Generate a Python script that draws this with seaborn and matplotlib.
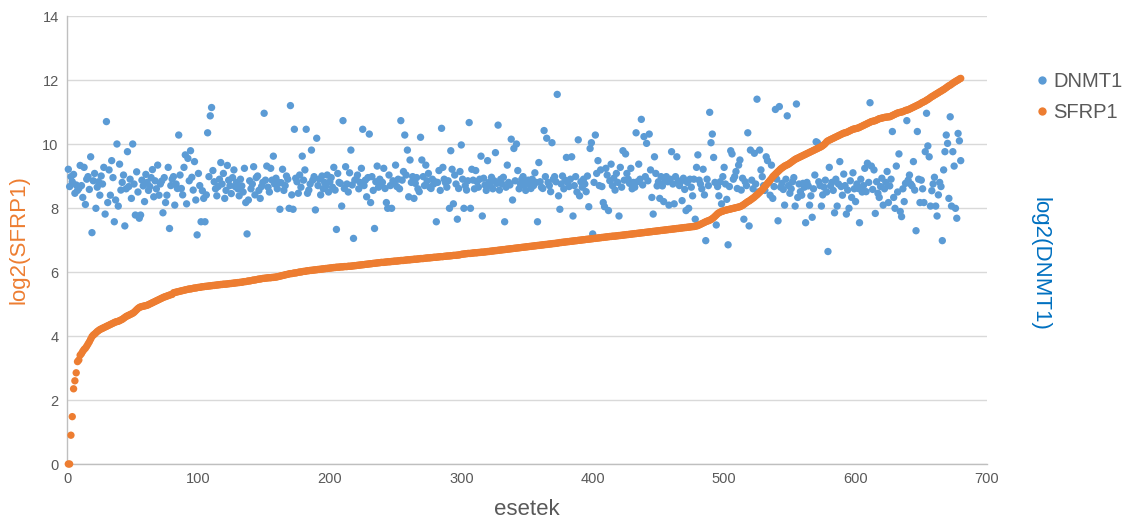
import numpy as np
import pandas as pd
import matplotlib
matplotlib.use("Agg")
import matplotlib.pyplot as plt
import seaborn as sns

# log2 expression per case, cases ranked by SFRP1
sfrp1 = [
    0, 0, 0.9, 1.48, 2.35, 2.6, 2.85, 3.2, 3.25, 3.4, 3.45, 3.52, 3.58, 3.62, 3.68, 3.75, 3.82, 3.9, 3.98, 4.03,
    4.06, 4.1, 4.14, 4.17, 4.2, 4.22, 4.24, 4.26, 4.28, 4.3, 4.32, 4.34, 4.36, 4.38, 4.4, 4.42, 4.44, 4.45, 4.46, 4.48,
    4.5, 4.52, 4.55, 4.58, 4.61, 4.63, 4.65, 4.67, 4.69, 4.71, 4.74, 4.78, 4.82, 4.86, 4.89, 4.91, 4.92, 4.93, 4.94, 4.95,
    4.96, 4.98, 5.0, 5.02, 5.04, 5.06, 5.08, 5.1, 5.12, 5.14, 5.16, 5.18, 5.2, 5.22, 5.23, 5.25, 5.26, 5.28, 5.29, 5.3,
    5.35, 5.36, 5.37, 5.38, 5.39, 5.4, 5.41, 5.42, 5.43, 5.44, 5.45, 5.46, 5.47, 5.47, 5.48, 5.49, 5.5, 5.5, 5.51, 5.52,
    5.52, 5.53, 5.54, 5.54, 5.55, 5.55, 5.56, 5.56, 5.57, 5.57, 5.58, 5.58, 5.59, 5.59, 5.6, 5.6, 5.61, 5.61, 5.62, 5.62,
    5.62, 5.63, 5.63, 5.64, 5.64, 5.65, 5.65, 5.66, 5.66, 5.67, 5.67, 5.68, 5.68, 5.69, 5.7, 5.7, 5.71, 5.72, 5.72, 5.73,
    5.74, 5.75, 5.75, 5.76, 5.77, 5.78, 5.78, 5.79, 5.8, 5.8, 5.81, 5.81, 5.82, 5.82, 5.82, 5.83, 5.83, 5.84, 5.84, 5.85,
    5.86, 5.87, 5.88, 5.89, 5.9, 5.91, 5.92, 5.93, 5.94, 5.95, 5.95, 5.96, 5.97, 5.97, 5.98, 5.99, 6.0, 6.0, 6.01, 6.02,
    6.02, 6.03, 6.04, 6.04, 6.05, 6.05, 6.06, 6.06, 6.07, 6.07, 6.08, 6.08, 6.09, 6.09, 6.1, 6.1, 6.11, 6.11, 6.12, 6.12,
    6.13, 6.13, 6.14, 6.14, 6.15, 6.15, 6.15, 6.16, 6.16, 6.16, 6.17, 6.17, 6.17, 6.18, 6.18, 6.18, 6.19, 6.19, 6.2, 6.2,
    6.21, 6.21, 6.22, 6.22, 6.23, 6.23, 6.24, 6.24, 6.25, 6.25, 6.26, 6.26, 6.27, 6.27, 6.28, 6.28, 6.29, 6.29, 6.3, 6.3,
    6.3, 6.31, 6.31, 6.32, 6.32, 6.32, 6.33, 6.33, 6.34, 6.34, 6.34, 6.35, 6.35, 6.36, 6.36, 6.36, 6.37, 6.37, 6.38, 6.38,
    6.38, 6.39, 6.39, 6.4, 6.4, 6.4, 6.41, 6.41, 6.42, 6.42, 6.42, 6.43, 6.43, 6.44, 6.44, 6.44, 6.45, 6.45, 6.46, 6.46,
    6.46, 6.47, 6.47, 6.48, 6.48, 6.48, 6.49, 6.49, 6.5, 6.5, 6.5, 6.51, 6.51, 6.52, 6.52, 6.52, 6.53, 6.53, 6.54, 6.55,
    6.56, 6.56, 6.57, 6.57, 6.58, 6.58, 6.58, 6.59, 6.59, 6.6, 6.6, 6.6, 6.61, 6.61, 6.62, 6.62, 6.62, 6.63, 6.63, 6.64,
    6.64, 6.65, 6.65, 6.66, 6.66, 6.67, 6.67, 6.68, 6.68, 6.69, 6.69, 6.7, 6.7, 6.71, 6.71, 6.72, 6.72, 6.73, 6.73, 6.74,
    6.74, 6.75, 6.75, 6.76, 6.76, 6.77, 6.77, 6.78, 6.78, 6.79, 6.79, 6.8, 6.8, 6.81, 6.81, 6.82, 6.82, 6.83, 6.83, 6.84,
    6.84, 6.85, 6.85, 6.86, 6.86, 6.87, 6.87, 6.88, 6.88, 6.89, 6.89, 6.9, 6.9, 6.91, 6.92, 6.92, 6.93, 6.93, 6.94, 6.94,
    6.95, 6.95, 6.96, 6.96, 6.97, 6.97, 6.98, 6.98, 6.99, 6.99, 7.0, 7.0, 7.01, 7.01, 7.02, 7.02, 7.03, 7.03, 7.04, 7.04,
    7.05, 7.05, 7.06, 7.06, 7.07, 7.07, 7.08, 7.08, 7.09, 7.09, 7.1, 7.1, 7.11, 7.11, 7.12, 7.12, 7.12, 7.13, 7.13, 7.14,
    7.14, 7.15, 7.15, 7.16, 7.16, 7.17, 7.17, 7.18, 7.18, 7.19, 7.19, 7.2, 7.2, 7.21, 7.21, 7.22, 7.22, 7.23, 7.23, 7.24,
    7.24, 7.25, 7.25, 7.26, 7.26, 7.27, 7.27, 7.28, 7.28, 7.29, 7.29, 7.3, 7.3, 7.31, 7.31, 7.32, 7.32, 7.33, 7.33, 7.34,
    7.34, 7.35, 7.35, 7.36, 7.36, 7.37, 7.37, 7.38, 7.38, 7.39, 7.39, 7.4, 7.4, 7.41, 7.41, 7.42, 7.42, 7.43, 7.44, 7.45,
    7.47, 7.49, 7.51, 7.53, 7.55, 7.57, 7.59, 7.6, 7.62, 7.64, 7.67, 7.7, 7.74, 7.78, 7.82, 7.85, 7.87, 7.89, 7.9, 7.92,
    7.93, 7.94, 7.95, 7.96, 7.97, 7.98, 7.99, 8.0, 8.01, 8.02, 8.03, 8.04, 8.06, 8.08, 8.11, 8.14, 8.17, 8.2, 8.22, 8.25,
    8.28, 8.31, 8.34, 8.38, 8.41, 8.45, 8.49, 8.53, 8.57, 8.62, 8.67, 8.72, 8.77, 8.82, 8.87, 8.92, 8.98, 9.02, 9.06, 9.1,
    9.14, 9.18, 9.22, 9.25, 9.28, 9.31, 9.33, 9.35, 9.37, 9.4, 9.43, 9.46, 9.49, 9.52, 9.54, 9.56, 9.58, 9.6, 9.62, 9.64,
    9.66, 9.68, 9.7, 9.72, 9.74, 9.76, 9.78, 9.8, 9.82, 9.84, 9.86, 9.88, 9.9, 9.92, 9.95, 9.98, 10.02, 10.07, 10.1, 10.12,
    10.14, 10.16, 10.18, 10.2, 10.22, 10.24, 10.26, 10.28, 10.3, 10.32, 10.34, 10.35, 10.36, 10.38, 10.4, 10.42, 10.44, 10.46, 10.47, 10.48,
    10.49, 10.5, 10.52, 10.54, 10.56, 10.58, 10.6, 10.62, 10.64, 10.66, 10.68, 10.7, 10.71, 10.72, 10.73, 10.75, 10.77, 10.79, 10.8, 10.81,
    10.82, 10.83, 10.84, 10.84, 10.85, 10.85, 10.87, 10.89, 10.91, 10.93, 10.95, 10.97, 10.98, 10.99, 11.0, 11.01, 11.03, 11.05, 11.06, 11.07,
    11.09, 11.11, 11.13, 11.15, 11.17, 11.19, 11.21, 11.23, 11.25, 11.28, 11.3, 11.32, 11.34, 11.37, 11.39, 11.42, 11.45, 11.48, 11.5, 11.53,
    11.55, 11.58, 11.6, 11.63, 11.65, 11.68, 11.7, 11.73, 11.76, 11.79, 11.82, 11.84, 11.87, 11.9, 11.93, 11.95, 11.98, 12.0, 12.03, 12.05,
]

dnmt1 = [
    9.21, 8.67, 8.98, 8.82, 9.05, 8.46, 8.72, 8.55, 8.61, 9.33,
    8.7, 8.33, 9.27, 8.11, 8.9, 8.98, 8.58, 9.6, 7.23, 8.85,
    9.08, 7.99, 8.65, 8.82, 8.4, 9.0, 8.75, 9.27, 7.81, 10.7,
    8.17, 9.19, 8.4, 9.48, 8.95, 7.57, 8.25, 10.0, 8.06, 9.37,
    8.56, 8.8, 9.03, 7.44, 8.6, 9.76, 8.67, 8.9, 8.3, 10.0,
    8.75, 7.78, 9.13, 8.5, 7.68, 7.78, 8.87, 8.69, 8.2, 9.05,
    8.8, 8.55, 8.67, 8.95, 9.2, 8.35, 8.85, 8.6, 9.34, 8.4,
    8.75, 8.84, 7.85, 8.95, 8.17, 8.4, 9.27, 7.36, 8.7, 8.9,
    8.98, 8.09, 8.75, 8.61, 10.28, 9.03, 8.61, 8.41, 9.27, 9.66,
    8.13, 9.55, 8.85, 9.79, 8.96, 8.56, 9.45, 8.25, 7.16, 9.08,
    8.7, 7.57, 8.54, 8.3, 7.57, 8.41, 10.35, 8.98, 10.88, 11.14,
    9.17, 8.82, 8.6, 8.38, 8.67, 8.9, 9.42, 8.75, 9.08, 8.3,
    8.55, 9.33, 8.87, 8.7, 8.45, 8.95, 9.19, 8.67, 8.8, 8.6,
    8.38, 8.9, 8.69, 8.5, 9.24, 8.17, 7.19, 8.25, 8.85, 8.6,
    8.75, 9.29, 8.41, 8.95, 9.0, 8.55, 8.3, 8.67, 8.8, 10.96,
    8.87, 9.31, 8.65, 8.5, 9.24, 8.87, 9.62, 8.75, 8.93, 8.6,
    8.8, 7.96, 8.79, 9.21, 8.55, 8.7, 9.0, 8.9, 7.99, 11.2,
    8.41, 7.96, 10.46, 8.93, 8.82, 8.46, 9.03, 8.65, 9.62, 8.87,
    9.19, 10.46, 8.46, 8.56, 8.75, 9.81, 8.87, 8.98, 7.94, 10.18,
    8.7, 8.9, 8.41, 9.0, 8.6, 8.8, 8.69, 9.03, 8.5, 8.82,
    8.95, 8.65, 9.27, 8.56, 7.33, 9.08, 8.8, 8.77, 8.06, 10.73,
    8.61, 9.29, 8.75, 8.5, 9.1, 9.81, 8.72, 7.05, 8.87, 8.9,
    9.03, 8.6, 8.8, 9.24, 10.46, 8.7, 8.87, 8.35, 8.95, 10.31,
    8.17, 8.98, 8.55, 7.36, 8.82, 9.31, 8.65, 8.9, 8.72, 8.8,
    9.24, 8.61, 8.17, 7.99, 9.03, 8.7, 7.99, 8.85, 8.77, 9.34,
    8.67, 8.9, 8.6, 10.73, 8.87, 9.14, 10.28, 9.03, 9.81, 8.35,
    9.5, 8.8, 8.98, 8.3, 8.77, 8.95, 8.6, 8.51, 10.21, 9.5,
    8.98, 8.7, 9.34, 8.85, 9.08, 8.65, 8.61, 8.9, 8.75, 8.82,
    7.57, 8.8, 9.17, 8.55, 10.49, 9.27, 8.9, 8.79, 8.65, 8.85,
    7.99, 9.79, 9.21, 8.13, 9.03, 8.75, 7.65, 8.61, 9.14, 9.97,
    8.9, 7.99, 8.7, 8.56, 8.85, 10.67, 7.99, 9.21, 8.87, 8.6,
    9.17, 8.82, 8.65, 8.9, 9.62, 7.75, 8.93, 8.72, 8.55, 9.48,
    8.8, 8.7, 8.96, 8.6, 8.85, 9.73, 8.77, 10.59, 8.56, 8.9,
    8.75, 8.96, 7.57, 8.65, 9.34, 8.8, 8.72, 10.15, 8.25, 9.86,
    8.85, 10.0, 9.17, 8.6, 8.75, 8.9, 8.98, 8.7, 8.55, 8.8,
    8.87, 8.75, 8.61, 8.9, 8.7, 9.1, 8.8, 7.57, 9.42, 8.82,
    8.65, 8.61, 10.42, 8.98, 10.18, 8.8, 8.7, 8.51, 10.04, 8.9,
    8.98, 8.82, 11.55, 8.38, 7.96, 8.75, 9.0, 8.6, 8.87, 9.58,
    8.8, 8.67, 8.9, 9.6, 7.75, 8.7, 8.98, 8.5, 10.13, 8.38,
    8.82, 8.65, 8.9, 8.75, 8.51, 9.0, 8.04, 9.86, 10.04, 7.19,
    8.8, 10.28, 9.08, 9.48, 8.7, 9.19, 8.67, 8.17, 8.04, 9.24,
    9.03, 7.92, 8.85, 9.37, 8.7, 8.93, 8.56, 9.08, 8.8, 7.75,
    9.27, 8.65, 9.79, 8.87, 9.69, 9.08, 8.9, 8.77, 9.24, 8.6,
    8.8, 8.65, 10.35, 8.82, 9.37, 8.9, 10.77, 8.72, 10.23, 8.98,
    10.02, 8.85, 10.31, 9.19, 8.33, 7.81, 9.6, 9.08, 8.69, 8.82,
    8.3, 8.98, 8.69, 8.2, 8.85, 8.98, 8.82, 8.09, 8.9, 9.76,
    8.75, 8.13, 8.98, 9.6, 8.85, 8.7, 8.82, 8.23, 8.93, 8.58,
    7.92, 8.8, 7.99, 8.9, 8.65, 8.38, 8.9, 7.65, 9.27, 9.66,
    8.87, 8.75, 8.6, 9.21, 8.41, 6.98, 8.9, 8.7, 10.99, 10.04,
    10.31, 9.58, 8.8, 7.47, 8.67, 8.38, 8.82, 8.13, 8.98, 9.27,
    8.75, 8.27, 6.85, 8.67, 9.79, 9.69, 8.9, 8.98, 9.14, 8.61,
    9.34, 9.5, 8.56, 8.93, 7.65, 8.82, 8.7, 10.35, 7.44, 9.81,
    8.87, 8.6, 9.71, 8.75, 11.4, 8.5, 9.81, 9.19, 8.98, 8.7,
    8.55, 9.6, 9.48, 8.8, 8.4, 9.34, 8.3, 8.67, 11.08, 8.9,
    7.6, 11.17, 8.65, 8.77, 8.58, 8.09, 8.9, 10.88, 8.7, 8.46,
    8.6, 8.82, 8.95, 8.06, 11.25, 8.33, 8.75, 8.51, 8.4, 8.77,
    8.65, 7.54, 8.8, 8.69, 8.09, 8.38, 7.71, 8.6, 9.03, 10.07,
    10.04, 8.82, 8.7, 8.06, 8.41, 8.65, 8.87, 8.5, 6.64, 9.27,
    8.69, 8.8, 8.55, 7.85, 8.9, 8.06, 8.75, 9.45, 8.67, 8.4,
    9.06, 8.7, 7.81, 8.56, 7.99, 8.85, 8.33, 9.1, 8.6, 8.2,
    8.75, 8.61, 7.54, 8.9, 8.5, 8.7, 9.24, 8.51, 9.4, 8.8,
    11.29, 9.31, 8.58, 9.19, 7.83, 8.82, 8.46, 8.33, 8.67, 8.93,
    8.09, 8.6, 8.8, 9.14, 8.17, 8.69, 8.9, 10.39, 8.33, 7.99,
    9.31, 8.5, 9.69, 7.89, 7.73, 8.6, 8.2, 8.77, 10.73, 8.87,
    9.03, 8.75, 8.69, 9.45, 8.56, 7.29, 10.39, 8.9, 8.17, 8.87,
    8.6, 8.17, 9.76, 10.96, 9.94, 9.6, 8.06, 8.54, 8.75, 8.96,
    8.06, 7.75, 8.41, 8.8, 8.67, 6.98, 9.19, 9.76, 10.28, 10.02,
    8.3, 10.85, 8.06, 9.76, 9.31, 7.99, 7.68, 10.33, 10.1, 9.48,
]

series_names = ["DNMT1", "SFRP1"]
x_ticks = [0, 100, 200, 300, 400, 500, 600, 700]
y_ticks = [0, 2, 4, 6, 8, 10, 12, 14]

cases = np.arange(1, len(sfrp1) + 1)
df = pd.DataFrame({"eset": np.concatenate([cases, cases]),
                   "value": dnmt1 + sfrp1,
                   "gene": [series_names[0]] * len(dnmt1) + [series_names[1]] * len(sfrp1)})

sns.set_theme(style="white")
plt.rcParams["font.family"] = ["Liberation Sans", "DejaVu Sans"]

blue = "#5B9BD5"
orange = "#ED7D31"
grey_txt = "#595959"

fig = plt.figure(figsize=(11.24, 5.22), dpi=100)
ax = fig.add_axes([67 / 1124, 1 - 464 / 522, 920 / 1124, 448 / 522])

sns.scatterplot(data=df, x="eset", y="value", hue="gene", hue_order=series_names,
                palette=[blue, orange], s=28, linewidth=0, ax=ax, legend=False,
                clip_on=False, zorder=3)

ax.set_xlim(0, 700)
ax.set_ylim(0, 14)
ax.set_xticks(x_ticks)
ax.set_yticks(y_ticks)
ax.yaxis.grid(True, color="#D9D9D9", linewidth=1)
ax.xaxis.grid(False)
ax.set_axisbelow(True)
for side in ["top", "right"]:
    ax.spines[side].set_visible(False)
for side in ["left", "bottom"]:
    ax.spines[side].set_color("#BFBFBF")
    ax.spines[side].set_linewidth(1)
ax.tick_params(axis="both", length=0, labelsize=10.5, labelcolor=grey_txt, pad=6)

ax.set_xlabel("esetek", fontsize=16, color=grey_txt, labelpad=9)
ax.set_ylabel("log2(SFRP1)", fontsize=16, color=orange, labelpad=9)
fig.text(1040 / 1124, 1 - 264 / 522, "log2(DNMT1)", rotation=270, fontsize=16,
         color="#0070C0", ha="center", va="center")

handles = [plt.Line2D([], [], marker="o", linestyle="", markersize=6,
                      markerfacecolor=c, markeredgewidth=0) for c in (blue, orange)]
fig.legend(handles, series_names, loc="upper left", bbox_to_anchor=(1018 / 1124, 1 - 58 / 522),
           frameon=False, fontsize=14.5, handletextpad=0.05, labelspacing=0.6,
           handlelength=1.0, borderpad=0.2, labelcolor=grey_txt)

fig.savefig("out.png", dpi=100)
